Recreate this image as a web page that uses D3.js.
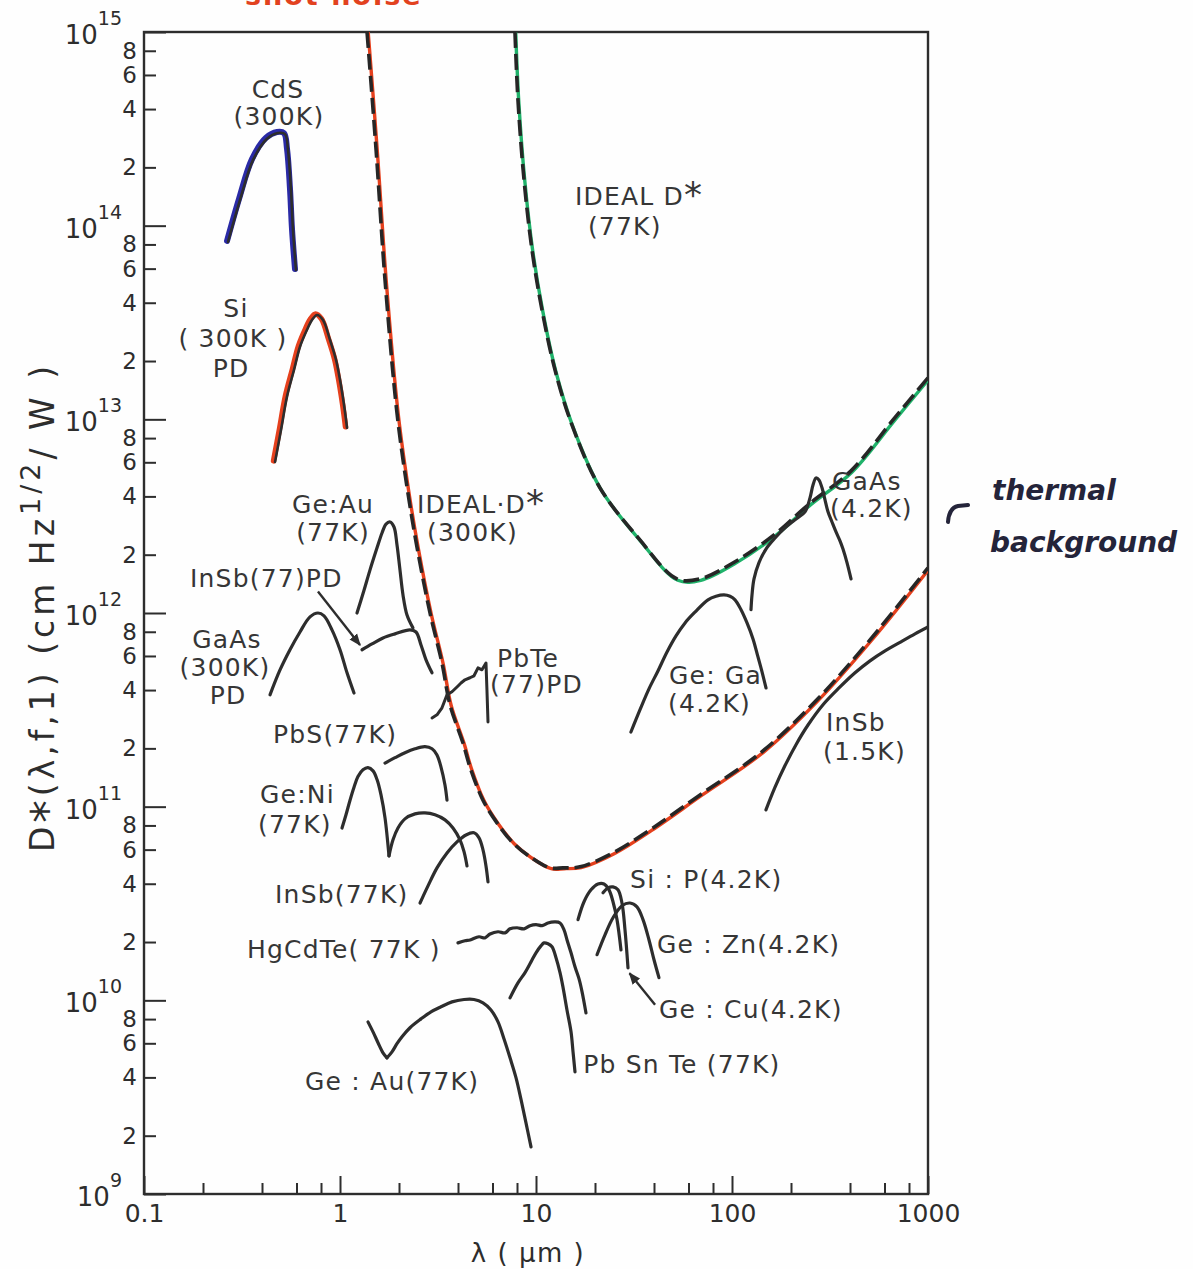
<!DOCTYPE html>
<html>
<head>
<meta charset="utf-8">
<script src="https://cdn.jsdelivr.net/npm/d3@7"></script>
<style>
  html, body { margin: 0; padding: 0; background: #ffffff; }
  svg { display: block; }
  text { font-family: "DejaVu Sans", "Liberation Sans", sans-serif; }
</style>
</head>
<body>
<svg id="chart" width="1193" height="1269"></svg>
<script>
// ---- Axis tick values and labels ----
const xMajor = [0.1, 1, 10, 100, 1000];
const xTickLabels = ["0.1", "1", "10", "100", "1000"];
const xMinor = [0.2, 0.4, 0.6, 0.8, 2, 4, 6, 8, 20, 40, 60, 80, 200, 400, 600, 800];
const yMajor = [1e9, 1e10, 1e11, 1e12, 1e13, 1e14, 1e15];
const yExponents = ["9", "10", "11", "12", "13", "14", "15"];
const yMinor = [];
[9, 10, 11, 12, 13, 14].forEach(k => [2, 4, 6, 8].forEach(m => yMinor.push(m * Math.pow(10, k))));

// ---- Detector curves: [wavelength (µm), D* (cm Hz^1/2 / W)] ----
const idealD300K = [[1.374,1.0e15],[1.528,2.46e14],[1.697,5.25e13],[1.953,1.08e13],[2.197,4.48e12],[2.471,2.19e12],[2.879,1.0e12],[3.314,5.52e11],[3.64,3.36e11],[4.243,2.13e11],[4.606,1.60e11],[5.365,1.08e11],[6.324,8.25e10],[7.633,6.5e10],[9.32,5.51e10],[11.79,4.83e10],[13.73,4.83e10],[16.77,4.89e10],[24.7,5.77e10],[38.2,7.59e10],[68.7,1.15e11],[142,1.92e11],[268,3.52e11],[506,7.26e11],[1000,1.71e12]];
const idealD77K = [[7.81,1.0e15],[8.09,4.46e14],[8.69,1.72e14],[9.54,7.5e13],[10.73,3.67e13],[12.5,1.80e13],[15.26,9.35e12],[21.2,4.43e12],[33.5,2.42e12],[52.4,1.50e12],[68.7,1.50e12],[103.6,1.84e12],[163.8,2.53e12],[244,3.61e12],[405,5.42e12],[663,9.93e12],[1000,1.64e13]];
const cdS300K = [[0.2683,8.24e13],[0.309,1.36e14],[0.3598,2.18e14],[0.4242,2.81e14],[0.4829,3.01e14],[0.524,2.97e14],[0.543,2.46e14],[0.5623,1.53e14],[0.5757,9.5e13],[0.5964,5.9e13]];
const si300KPD = [[0.4663,6.03e12],[0.5,8.81e12],[0.5365,1.31e13],[0.5825,1.80e13],[0.625,2.37e13],[0.6785,2.90e13],[0.7197,3.26e13],[0.7633,3.46e13],[0.819,3.26e13],[0.889,2.57e13],[0.954,2.03e13],[1.0,1.60e13],[1.048,1.19e13],[1.086,9.04e12]];
const geAu77KHigh = [[1.221,1.0e12],[1.326,1.31e12],[1.423,1.67e12],[1.545,2.17e12],[1.638,2.59e12],[1.717,2.88e12],[1.80,2.95e12],[1.886,2.78e12],[1.953,2.25e12],[2.023,1.67e12],[2.096,1.24e12],[2.197,9.77e11],[2.356,8.38e11]];
const inSb77PD = [[1.295,6.46e11],[1.456,6.92e11],[1.657,7.43e11],[1.908,7.80e11],[2.276,8.18e11],[2.442,7.98e11],[2.59,6.84e11],[2.747,5.73e11],[2.948,4.91e11]];
const gaAs300KPD = [[0.4394,3.78e11],[0.4942,5.08e11],[0.5556,6.46e11],[0.625,7.98e11],[0.703,9.55e11],[0.772,1.0e12],[0.829,9.66e11],[0.910,8.18e11],[1.0,6.46e11],[1.086,4.91e11],[1.179,3.86e11]];
const pbTe77PD = [[2.948,2.87e11],[3.125,2.98e11],[3.314,3.24e11],[3.515,3.78e11],[3.727,3.92e11],[3.953,4.15e11],[4.143,4.35e11],[4.342,4.52e11],[4.606,4.63e11],[4.827,4.74e11],[5.06,5.21e11],[5.30,5.09e11],[5.557,5.52e11],[5.62,4.01e11],[5.69,2.74e11]];
const pbS77K = [[1.697,1.68e11],[1.908,1.79e11],[2.145,1.90e11],[2.414,1.99e11],[2.715,2.04e11],[2.948,1.99e11],[3.125,1.85e11],[3.276,1.60e11],[3.434,1.29e11],[3.515,1.08e11]];
const geNi77K = [[1.024,7.76e10],[1.073,9.08e10],[1.125,1.08e11],[1.179,1.26e11],[1.235,1.43e11],[1.31,1.55e11],[1.389,1.59e11],[1.474,1.53e11],[1.545,1.38e11],[1.619,1.15e11],[1.697,8.75e10],[1.778,5.57e10]];
const geNi77KLong = [[1.778,5.57e10],[1.864,6.74e10],[1.976,7.76e10],[2.145,8.65e10],[2.414,9.18e10],[2.715,9.29e10],[3.052,9.08e10],[3.434,8.55e10],[3.771,7.76e10],[4.095,6.74e10],[4.293,5.86e10],[4.446,4.94e10]];
const inSb77K = [[2.56,3.18e10],[2.812,3.90e10],[3.125,4.83e10],[3.515,5.77e10],[3.953,6.58e10],[4.394,7.14e10],[4.827,7.33e10],[5.12,6.90e10],[5.365,5.98e10],[5.557,4.94e10],[5.69,4.09e10]];
const hgCdTe77K = [[4.0,1.98e10],[4.34,2.03e10],[4.61,2.05e10],[5.12,2.13e10],[5.49,2.10e10],[5.83,2.20e10],[6.40,2.26e10],[6.95,2.23e10],[7.37,2.34e10],[8.0,2.37e10],[8.69,2.34e10],[9.32,2.43e10],[10.0,2.46e10],[10.73,2.43e10],[11.51,2.51e10],[12.5,2.54e10],[13.26,2.51e10],[13.9,2.31e10],[14.4,2.05e10],[15.09,1.76e10],[15.81,1.49e10],[16.58,1.29e10],[17.17,1.11e10],[17.99,8.61e9]];
const pbSnTe77K = [[7.37,1.03e10],[8.09,1.23e10],[8.79,1.39e10],[9.43,1.58e10],[10.0,1.76e10],[10.6,1.91e10],[10.99,1.98e10],[11.51,1.96e10],[12.07,1.89e10],[12.65,1.66e10],[13.26,1.39e10],[13.73,1.17e10],[14.39,8.92e9],[15.09,6.88e9],[15.45,5.42e9],[15.81,4.27e9]];
const geAu77KLow = [[1.389,7.74e9],[1.474,6.87e9],[1.563,6.04e9],[1.657,5.36e9],[1.737,5.05e9]];
const geAu77KLowRise = [[1.737,5.05e9],[1.842,5.42e9],[1.953,5.97e9],[2.072,6.49e9],[2.276,7.22e9],[2.59,8.02e9],[2.912,8.72e9],[3.276,9.26e9],[3.727,9.82e9],[4.293,1.01e10],[4.827,1.01e10],[5.365,9.71e9],[5.893,8.92e9],[6.40,7.74e9],[6.87,6.31e9],[7.37,5.05e9],[7.91,3.98e9],[8.39,3.07e9],[8.89,2.33e9],[9.43,1.75e9]];
const siP42K = [[16.38,2.61e10],[17.58,3.23e10],[19.08,3.72e10],[20.72,3.99e10],[22.23,3.99e10],[23.58,3.72e10],[24.71,3.23e10],[25.9,2.61e10],[27.14,1.82e10]];
const geCu42K = [[21.97,3.59e10],[23.3,3.81e10],[24.71,3.85e10],[26.2,3.72e10],[27.46,3.18e10],[28.45,2.31e10],[29.47,1.47e10]];
const geZn42K = [[20.48,1.72e10],[22.49,2.18e10],[24.71,2.67e10],[27.46,3.08e10],[30.17,3.18e10],[32.75,3.04e10],[35.15,2.61e10],[37.72,2.05e10],[40.0,1.62e10],[42.4,1.31e10]];
const geGa42K = [[30.5,2.43e11],[33.9,3.16e11],[37.7,4.06e11],[41.9,5.02e11],[46.6,6.29e11],[51.8,7.62e11],[57.6,8.89e11],[64.7,1.01e12],[75.4,1.17e12],[82.9,1.22e12],[91.0,1.24e12],[97.7,1.22e12],[103.6,1.17e12],[111.2,1.04e12],[119.3,8.89e11],[128,7.35e11],[135.7,5.93e11],[142.3,4.97e11],[149.1,4.10e11]];
const gaAs42K = [[125,1.04e12],[126.5,1.24e12],[129.5,1.50e12],[137.3,1.82e12],[149.1,2.14e12],[165.8,2.44e12],[186.4,2.75e12],[209.6,3.03e12],[235.7,3.33e12],[250,3.93e12],[259,4.58e12],[268.3,4.98e12],[277.9,4.86e12],[287.9,4.43e12],[298.2,3.84e12],[308.9,3.33e12],[323.7,2.95e12],[339.4,2.62e12],[355.6,2.36e12],[368.4,2.14e12],[386.1,1.82e12],[404.8,1.50e12]];
const inSb15K = [[149,9.62e10],[165.8,1.26e11],[186.4,1.63e11],[212.1,2.09e11],[244.2,2.64e11],[291.3,3.36e11],[351.5,4.10e11],[424.3,4.91e11],[505.9,5.66e11],[603.5,6.37e11],[728,7.10e11],[858.5,7.80e11],[1000,8.47e11]];

// ---- Curve labels: [text, wavelength, D*, anchor] ----
const curveLabels = [
  ["CdS", 0.483, 4.56e14, "middle"], ["(300K)", 0.488, 3.31e14, "middle"],
  ["Si", 0.2946, 3.38e13, "middle"], ["( 300K )", 0.2845, 2.36e13, "middle"], ["PD", 0.278, 1.66e13, "middle"],
  ["IDEAL D*", 15.8, 1.28e14, "start"], ["(77K)", 18.4, 8.96e13, "start"],
  ["Ge:Au", 0.921, 3.29e12, "middle"], ["(77K)", 0.921, 2.36e12, "middle"],
  ["IDEAL·D*", 2.471, 3.29e12, "start"], ["(300K)", 2.78, 2.36e12, "start"],
  ["InSb(77)PD", 0.1717, 1.36e12, "start"],
  ["GaAs", 0.2651, 6.60e11, "middle"], ["(300K)", 0.259, 4.74e11, "middle"], ["PD", 0.2683, 3.39e11, "middle"],
  ["PbTe", 6.32, 5.27e11, "start"], ["(77)PD", 5.83, 3.86e11, "start"],
  ["PbS(77K)", 0.455, 2.13e11, "start"],
  ["Ge:Ni", 0.3907, 1.05e11, "start"], ["(77K)", 0.3815, 7.33e10, "start"],
  ["InSb(77K)", 0.4663, 3.18e10, "start"],
  ["HgCdTe( 77K )", 0.3354, 1.66e10, "start"],
  ["Ge : Au(77K)", 0.663, 3.45e9, "start"],
  ["Si : P(4.2K)", 30.2, 3.81e10, "start"],
  ["Ge : Zn(4.2K)", 41.4, 1.76e10, "start"],
  ["Ge : Cu(4.2K)", 42.4, 8.13e9, "start"],
  ["Pb Sn Te (77K)", 17.4, 4.23e9, "start"],
  ["GaAs", 323.7, 4.32e12, "start"], ["(4.2K)", 316, 3.13e12, "start"],
  ["Ge: Ga", 47.7, 4.31e11, "start"], ["(4.2K)", 47.2, 3.09e11, "start"],
  ["InSb", 301.8, 2.46e11, "start"], ["(1.5K)", 291.3, 1.745e11, "start"]
];

// ---- Pointer arrows: [from λ, from D*, to λ, to D*] ----
const pointerArrows = [
  [0.772, 1.29e12, 1.265, 6.84e11],
  [40.5, 9.48e9, 30.0, 1.38e10]
];

// ---- Drawing ----
const svg = d3.select("#chart");
const W = 1193, H = 1269;
const ink = "#2d2d2d";
const x = d3.scaleLog().domain([0.1, 1000]).range([144, 928]);
const y = d3.scaleLog().domain([1e9, 1e15]).range([1194, 32]);

svg.append("rect").attr("width", W).attr("height", H).attr("fill", "#fefefe");

const defs = svg.append("defs");
defs.append("clipPath").attr("id", "plotClip")
  .append("rect").attr("x", x(0.1)).attr("y", y(1e15))
  .attr("width", x(1000) - x(0.1)).attr("height", y(1e9) - y(1e15));
defs.append("marker").attr("id", "arrowHead")
  .attr("viewBox", "0 0 10 10").attr("refX", 9).attr("refY", 5)
  .attr("markerWidth", 5).attr("markerHeight", 5).attr("orient", "auto")
  .append("path").attr("d", "M0,1 L10,5 L0,9 Z").attr("fill", ink);

// Axes: ticks point inward
function styleAxis(g) {
  g.select(".domain").remove();
  g.selectAll(".tick line").attr("stroke", ink).attr("stroke-width", 2);
  g.selectAll(".tick text").attr("fill", ink).attr("font-size", 25)
    .attr("font-family", "DejaVu Sans, sans-serif");
}

svg.append("g").attr("transform", `translate(0,${y(1e9)})`)
  .call(d3.axisBottom(x).tickValues(xMajor).tickFormat((d, i) => xTickLabels[i]).tickSize(-18).tickPadding(10))
  .call(styleAxis);
svg.append("g").attr("transform", `translate(0,${y(1e9)})`)
  .call(d3.axisBottom(x).tickValues(xMinor).tickFormat("").tickSize(-11))
  .call(styleAxis);

svg.append("g").attr("transform", `translate(${x(0.1)},0)`)
  .call(d3.axisLeft(y).tickValues(yMajor).tickFormat("").tickSize(-22))
  .call(styleAxis);
svg.append("g").attr("transform", `translate(${x(0.1)},0)`)
  .call(d3.axisLeft(y).tickValues(yMinor)
    .tickFormat(d => String(Math.round(d / Math.pow(10, Math.floor(Math.log10(d) + 1e-9)))))
    .tickSize(-12).tickPadding(7))
  .call(styleAxis)
  .call(g => g.selectAll(".tick text").attr("font-size", 23));

// Decade labels with superscript exponents
yMajor.forEach((v, i) => {
  const t = svg.append("text").attr("x", x(0.1) - 22).attr("y", y(v) + 12)
    .attr("text-anchor", "end").attr("fill", ink);
  t.append("tspan").attr("font-size", 26).text("10");
  t.append("tspan").attr("font-size", 19).attr("dy", -19).text(yExponents[i]);
});

// Plot frame
svg.append("rect").attr("x", x(0.1)).attr("y", y(1e15))
  .attr("width", x(1000) - x(0.1)).attr("height", y(1e9) - y(1e15))
  .attr("fill", "none").attr("stroke", ink).attr("stroke-width", 2.4);

// Axis titles
const yTitle = svg.append("text").attr("transform", "translate(54,607) rotate(-90)")
  .attr("text-anchor", "middle").attr("fill", ink).attr("font-size", 33).attr("letter-spacing", 4);
yTitle.append("tspan").text("D");
yTitle.append("tspan").attr("font-size", 45).attr("dy", 9).text("*");
yTitle.append("tspan").attr("dy", -9).text("(λ,f,1)  (cm Hz");
yTitle.append("tspan").attr("font-size", 27).attr("dy", -14).text("1/2");
yTitle.append("tspan").attr("dy", 14).text("/ W )");

svg.append("text").attr("x", 528).attr("y", 1262)
  .attr("text-anchor", "middle").attr("fill", ink).attr("font-size", 26).attr("letter-spacing", 1.5)
  .text("λ ( μm )");

// Curves
const plot = svg.append("g").attr("clip-path", "url(#plotClip)");
const smooth = d3.line().x(d => x(d[0])).y(d => y(d[1])).curve(d3.curveCatmullRom.alpha(0.5));
const straight = d3.line().x(d => x(d[0])).y(d => y(d[1]));

function draw(data, gen, opts) {
  return plot.append("path").datum(data).attr("d", gen)
    .attr("fill", "none")
    .attr("stroke", opts.color || ink)
    .attr("stroke-width", opts.width || 3.2)
    .attr("stroke-linecap", opts.dash ? "butt" : "round").attr("stroke-linejoin", "round")
    .attr("stroke-dasharray", opts.dash || null)
    .attr("transform", opts.shift || null);
}

// Ideal background-limited curves: coloured trace beside black dashes
draw(idealD300K, smooth, { color: "#e5401d", width: 3.4, shift: "translate(1.2,0.8)" });
draw(idealD300K, smooth, { color: "#262626", width: 3.6, dash: "16 6" });
draw(idealD77K, smooth, { color: "#1fb26a", width: 3.4, shift: "translate(0.8,1.4)" });
draw(idealD77K, smooth, { color: "#262626", width: 3.6, dash: "16 6" });

// Hand-traced highlights beneath the CdS and Si curves
draw(cdS300K, smooth, { color: "#2a2aa6", width: 6, shift: "translate(-1,-1)" });
draw(si300KPD, smooth, { color: "#e5401d", width: 5.5, shift: "translate(-1.5,-1)" });

[cdS300K, si300KPD, geAu77KHigh, inSb77PD, gaAs300KPD, pbS77K, geNi77K, geNi77KLong, inSb77K,
 hgCdTe77K, pbSnTe77K, geAu77KLow, geAu77KLowRise, siP42K, geCu42K, geZn42K, geGa42K, gaAs42K, inSb15K]
  .forEach(s => draw(s, smooth, { width: s === cdS300K || s === si300KPD ? 2.6 : 3.2 }));
draw(pbTe77PD, straight, { width: 3 });

// Pointer arrows
pointerArrows.forEach(a => {
  svg.append("line").attr("x1", x(a[0])).attr("y1", y(a[1])).attr("x2", x(a[2])).attr("y2", y(a[3]))
    .attr("stroke", ink).attr("stroke-width", 2.4).attr("marker-end", "url(#arrowHead)");
});

// Curve labels
curveLabels.forEach(([txt, lam, d, anchor]) => {
  const t = svg.append("text").attr("x", x(lam)).attr("y", y(d))
    .attr("text-anchor", anchor).attr("fill", "#363636").attr("font-size", 25).attr("letter-spacing", 1.2);
  if (txt.endsWith("*")) {
    t.append("tspan").text(txt.slice(0, -1));
    t.append("tspan").attr("font-size", 36).attr("dy", 2).text("*");
  } else {
    t.text(txt);
  }
});

// Handwritten margin notes
svg.append("text").attr("x", 245).attr("y", 5).attr("fill", "#e2421f")
  .attr("font-size", 27).attr("font-weight", "bold").attr("letter-spacing", 2).text("shot noise");
svg.append("path").attr("d", "M948,522 Q949,508 958,506 L968,505")
  .attr("fill", "none").attr("stroke", "#24243a").attr("stroke-width", 4).attr("stroke-linecap", "round");
svg.append("text").attr("x", 992).attr("y", 500).attr("fill", "#24243a")
  .attr("font-size", 28).attr("font-weight", "bold").attr("font-style", "italic").text("thermal");
svg.append("text").attr("x", 990).attr("y", 552).attr("fill", "#24243a")
  .attr("font-size", 28).attr("font-weight", "bold").attr("font-style", "italic").text("background");
</script>
</body>
</html>
